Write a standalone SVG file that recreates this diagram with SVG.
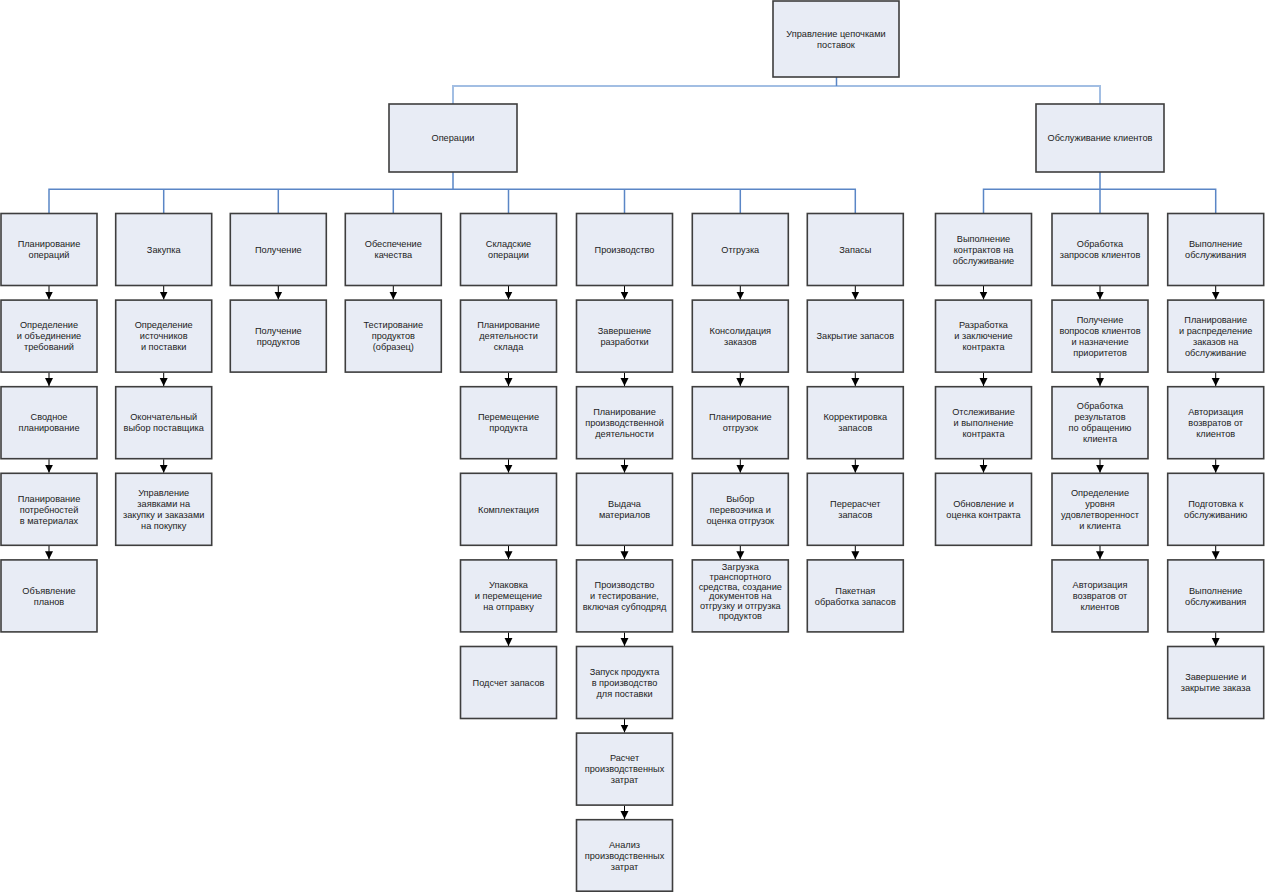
<svg xmlns="http://www.w3.org/2000/svg" width="1265" height="892" viewBox="0 0 1265 892">
<style>
.b{fill:#E8ECF5;stroke:#3E3E3E;stroke-width:1.6}
.t{font-family:"Liberation Sans",Arial,sans-serif;font-size:9.2px;fill:#222;text-anchor:middle}
.c{fill:none;stroke:#5A86C6;stroke-width:1.5}
.cl{fill:none;stroke:#A2BEE3;stroke-width:2}
.a line{stroke:#000;stroke-width:1;marker-end:url(#ah)}
</style>
<defs>
<marker id="ah" markerUnits="userSpaceOnUse" markerWidth="9" markerHeight="9" refX="8" refY="4.5" orient="auto"><path d="M0,0.5 L8,4.5 L0,8.5 z" fill="#000"/></marker>
</defs>
<rect width="1265" height="892" fill="#fff"/>
<g id="connectors">
<path class="cl" d="M453,104 V86 H1100 V104"/>
<path class="c" d="M836.5,77 V86"/>
<path class="c" d="M453,172 V189.3 M49,213.5 V189.3 H855.3 V213.5 M163.7,189.3 V213.5 M278.3,189.3 V213.5 M393.3,189.3 V213.5 M508.5,189.3 V213.5 M624.5,189.3 V213.5 M740.3,189.3 V213.5"/>
<path class="c" d="M1100,172 V213.5 M983.5,213.5 V189.3 H1215.7 V213.5"/>
<g id="arrows" class="a">
<line x1="49" y1="286" x2="49" y2="299.5"/><line x1="49" y1="372.6" x2="49" y2="386.1"/><line x1="49" y1="459.2" x2="49" y2="472.7"/><line x1="49" y1="545.8" x2="49" y2="559.3"/>
<line x1="163.7" y1="286" x2="163.7" y2="299.5"/><line x1="163.7" y1="372.6" x2="163.7" y2="386.1"/><line x1="163.7" y1="459.2" x2="163.7" y2="472.7"/>
<line x1="278.3" y1="286" x2="278.3" y2="299.5"/>
<line x1="393.3" y1="286" x2="393.3" y2="299.5"/>
<line x1="508.5" y1="286" x2="508.5" y2="299.5"/><line x1="508.5" y1="372.6" x2="508.5" y2="386.1"/><line x1="508.5" y1="459.2" x2="508.5" y2="472.7"/><line x1="508.5" y1="545.8" x2="508.5" y2="559.3"/><line x1="508.5" y1="632.4" x2="508.5" y2="645.9"/>
<line x1="624.5" y1="286" x2="624.5" y2="299.5"/><line x1="624.5" y1="372.6" x2="624.5" y2="386.1"/><line x1="624.5" y1="459.2" x2="624.5" y2="472.7"/><line x1="624.5" y1="545.8" x2="624.5" y2="559.3"/><line x1="624.5" y1="632.4" x2="624.5" y2="645.9"/><line x1="624.5" y1="719" x2="624.5" y2="732.5"/><line x1="624.5" y1="805.6" x2="624.5" y2="819.1"/>
<line x1="740.3" y1="286" x2="740.3" y2="299.5"/><line x1="740.3" y1="372.6" x2="740.3" y2="386.1"/><line x1="740.3" y1="459.2" x2="740.3" y2="472.7"/><line x1="740.3" y1="545.8" x2="740.3" y2="559.3"/>
<line x1="855.3" y1="286" x2="855.3" y2="299.5"/><line x1="855.3" y1="372.6" x2="855.3" y2="386.1"/><line x1="855.3" y1="459.2" x2="855.3" y2="472.7"/><line x1="855.3" y1="545.8" x2="855.3" y2="559.3"/>
<line x1="983.5" y1="286" x2="983.5" y2="299.5"/><line x1="983.5" y1="372.6" x2="983.5" y2="386.1"/><line x1="983.5" y1="459.2" x2="983.5" y2="472.7"/>
<line x1="1100" y1="286" x2="1100" y2="299.5"/><line x1="1100" y1="372.6" x2="1100" y2="386.1"/><line x1="1100" y1="459.2" x2="1100" y2="472.7"/><line x1="1100" y1="545.8" x2="1100" y2="559.3"/>
<line x1="1215.7" y1="286" x2="1215.7" y2="299.5"/><line x1="1215.7" y1="372.6" x2="1215.7" y2="386.1"/><line x1="1215.7" y1="459.2" x2="1215.7" y2="472.7"/><line x1="1215.7" y1="545.8" x2="1215.7" y2="559.3"/><line x1="1215.7" y1="632.4" x2="1215.7" y2="645.9"/>
</g>
</g>

<g id="n-root"><rect class="b" x="773" y="1" width="126" height="76"/><text class="t"><tspan x="836" y="36.7">Управление цепочками</tspan><tspan x="836" y="47.7">поставок</tspan></text></g>
<g id="n-ops"><rect class="b" x="389" y="104" width="128" height="68"/><text class="t"><tspan x="453" y="141.2">Операции</tspan></text></g>
<g id="n-svc"><rect class="b" x="1036" y="104" width="128" height="68"/><text class="t"><tspan x="1100" y="141.2">Обслуживание клиентов</tspan></text></g>

<g id="n-c1r0"><rect class="b" x="1" y="213.5" width="96" height="72"/><text class="t"><tspan x="49" y="247.2">Планирование</tspan><tspan x="49" y="258.2">операций</tspan></text></g>
<g id="n-c1r1"><rect class="b" x="1" y="300.1" width="96" height="72"/><text class="t"><tspan x="49" y="328.3">Определение</tspan><tspan x="49" y="339.3">и объединение</tspan><tspan x="49" y="350.3">требований</tspan></text></g>
<g id="n-c1r2"><rect class="b" x="1" y="386.7" width="96" height="72"/><text class="t"><tspan x="49" y="420.4">Сводное</tspan><tspan x="49" y="431.4">планирование</tspan></text></g>
<g id="n-c1r3"><rect class="b" x="1" y="473.3" width="96" height="72"/><text class="t"><tspan x="49" y="501.5">Планирование</tspan><tspan x="49" y="512.5">потребностей</tspan><tspan x="49" y="523.5">в материалах</tspan></text></g>
<g id="n-c1r4"><rect class="b" x="1" y="559.9" width="96" height="72"/><text class="t"><tspan x="49" y="593.6">Объявление</tspan><tspan x="49" y="604.6">планов</tspan></text></g>

<g id="n-c2r0"><rect class="b" x="115.7" y="213.5" width="96" height="72"/><text class="t"><tspan x="163.7" y="252.7">Закупка</tspan></text></g>
<g id="n-c2r1"><rect class="b" x="115.7" y="300.1" width="96" height="72"/><text class="t"><tspan x="163.7" y="328.3">Определение</tspan><tspan x="163.7" y="339.3">источников</tspan><tspan x="163.7" y="350.3">и поставки</tspan></text></g>
<g id="n-c2r2"><rect class="b" x="115.7" y="386.7" width="96" height="72"/><text class="t"><tspan x="163.7" y="420.4">Окончательный</tspan><tspan x="163.7" y="431.4">выбор поставщика</tspan></text></g>
<g id="n-c2r3"><rect class="b" x="115.7" y="473.3" width="96" height="72"/><text class="t"><tspan x="163.7" y="496">Управление</tspan><tspan x="163.7" y="507">заявками на</tspan><tspan x="163.7" y="518">закупку и заказами</tspan><tspan x="163.7" y="529">на покупку</tspan></text></g>

<g id="n-c3r0"><rect class="b" x="230.3" y="213.5" width="96" height="72"/><text class="t"><tspan x="278.3" y="252.7">Получение</tspan></text></g>
<g id="n-c3r1"><rect class="b" x="230.3" y="300.1" width="96" height="72"/><text class="t"><tspan x="278.3" y="333.8">Получение</tspan><tspan x="278.3" y="344.8">продуктов</tspan></text></g>

<g id="n-c4r0"><rect class="b" x="345.3" y="213.5" width="96" height="72"/><text class="t"><tspan x="393.3" y="247.2">Обеспечение</tspan><tspan x="393.3" y="258.2">качества</tspan></text></g>
<g id="n-c4r1"><rect class="b" x="345.3" y="300.1" width="96" height="72"/><text class="t"><tspan x="393.3" y="328.3">Тестирование</tspan><tspan x="393.3" y="339.3">продуктов</tspan><tspan x="393.3" y="350.3">(образец)</tspan></text></g>

<g id="n-c5r0"><rect class="b" x="460.5" y="213.5" width="96" height="72"/><text class="t"><tspan x="508.5" y="247.2">Складские</tspan><tspan x="508.5" y="258.2">операции</tspan></text></g>
<g id="n-c5r1"><rect class="b" x="460.5" y="300.1" width="96" height="72"/><text class="t"><tspan x="508.5" y="328.3">Планирование</tspan><tspan x="508.5" y="339.3">деятельности</tspan><tspan x="508.5" y="350.3">склада</tspan></text></g>
<g id="n-c5r2"><rect class="b" x="460.5" y="386.7" width="96" height="72"/><text class="t"><tspan x="508.5" y="420.4">Перемещение</tspan><tspan x="508.5" y="431.4">продукта</tspan></text></g>
<g id="n-c5r3"><rect class="b" x="460.5" y="473.3" width="96" height="72"/><text class="t"><tspan x="508.5" y="512.5">Комплектация</tspan></text></g>
<g id="n-c5r4"><rect class="b" x="460.5" y="559.9" width="96" height="72"/><text class="t"><tspan x="508.5" y="588.1">Упаковка</tspan><tspan x="508.5" y="599.1">и перемещение</tspan><tspan x="508.5" y="610.1">на отправку</tspan></text></g>
<g id="n-c5r5"><rect class="b" x="460.5" y="646.5" width="96" height="72"/><text class="t"><tspan x="508.5" y="685.7">Подсчет запасов</tspan></text></g>

<g id="n-c6r0"><rect class="b" x="576.5" y="213.5" width="96" height="72"/><text class="t"><tspan x="624.5" y="252.7">Производство</tspan></text></g>
<g id="n-c6r1"><rect class="b" x="576.5" y="300.1" width="96" height="72"/><text class="t"><tspan x="624.5" y="333.8">Завершение</tspan><tspan x="624.5" y="344.8">разработки</tspan></text></g>
<g id="n-c6r2"><rect class="b" x="576.5" y="386.7" width="96" height="72"/><text class="t"><tspan x="624.5" y="414.9">Планирование</tspan><tspan x="624.5" y="425.9">производственной</tspan><tspan x="624.5" y="436.9">деятельности</tspan></text></g>
<g id="n-c6r3"><rect class="b" x="576.5" y="473.3" width="96" height="72"/><text class="t"><tspan x="624.5" y="507">Выдача</tspan><tspan x="624.5" y="518">материалов</tspan></text></g>
<g id="n-c6r4"><rect class="b" x="576.5" y="559.9" width="96" height="72"/><text class="t"><tspan x="624.5" y="588.1">Производство</tspan><tspan x="624.5" y="599.1">и тестирование,</tspan><tspan x="624.5" y="610.1">включая субподряд</tspan></text></g>
<g id="n-c6r5"><rect class="b" x="576.5" y="646.5" width="96" height="72"/><text class="t"><tspan x="624.5" y="674.7">Запуск продукта</tspan><tspan x="624.5" y="685.7">в производство</tspan><tspan x="624.5" y="696.7">для поставки</tspan></text></g>
<g id="n-c6r6"><rect class="b" x="576.5" y="733.1" width="96" height="72"/><text class="t"><tspan x="624.5" y="761.3">Расчет</tspan><tspan x="624.5" y="772.3">производственных</tspan><tspan x="624.5" y="783.3">затрат</tspan></text></g>
<g id="n-c6r7"><rect class="b" x="576.5" y="819.7" width="96" height="71.5"/><text class="t"><tspan x="624.5" y="847.9">Анализ</tspan><tspan x="624.5" y="858.9">производственных</tspan><tspan x="624.5" y="869.9">затрат</tspan></text></g>

<g id="n-c7r0"><rect class="b" x="692.3" y="213.5" width="96" height="72"/><text class="t"><tspan x="740.3" y="252.7">Отгрузка</tspan></text></g>
<g id="n-c7r1"><rect class="b" x="692.3" y="300.1" width="96" height="72"/><text class="t"><tspan x="740.3" y="333.8">Консолидация</tspan><tspan x="740.3" y="344.8">заказов</tspan></text></g>
<g id="n-c7r2"><rect class="b" x="692.3" y="386.7" width="96" height="72"/><text class="t"><tspan x="740.3" y="420.4">Планирование</tspan><tspan x="740.3" y="431.4">отгрузок</tspan></text></g>
<g id="n-c7r3"><rect class="b" x="692.3" y="473.3" width="96" height="72"/><text class="t"><tspan x="740.3" y="501.5">Выбор</tspan><tspan x="740.3" y="512.5">перевозчика и</tspan><tspan x="740.3" y="523.5">оценка отгрузок</tspan></text></g>
<g id="n-c7r4"><rect class="b" x="692.3" y="559.9" width="96" height="72"/><text class="t"><tspan x="740.3" y="569.9">Загрузка</tspan><tspan x="740.3" y="579.7">транспортного</tspan><tspan x="740.3" y="589.5">средства, создание</tspan><tspan x="740.3" y="599.3">документов на</tspan><tspan x="740.3" y="609.1">отгрузку и отгрузка</tspan><tspan x="740.3" y="618.9">продуктов</tspan></text></g>

<g id="n-c8r0"><rect class="b" x="807.3" y="213.5" width="96" height="72"/><text class="t"><tspan x="855.3" y="252.7">Запасы</tspan></text></g>
<g id="n-c8r1"><rect class="b" x="807.3" y="300.1" width="96" height="72"/><text class="t"><tspan x="855.3" y="339.3">Закрытие запасов</tspan></text></g>
<g id="n-c8r2"><rect class="b" x="807.3" y="386.7" width="96" height="72"/><text class="t"><tspan x="855.3" y="420.4">Корректировка</tspan><tspan x="855.3" y="431.4">запасов</tspan></text></g>
<g id="n-c8r3"><rect class="b" x="807.3" y="473.3" width="96" height="72"/><text class="t"><tspan x="855.3" y="507">Перерасчет</tspan><tspan x="855.3" y="518">запасов</tspan></text></g>
<g id="n-c8r4"><rect class="b" x="807.3" y="559.9" width="96" height="72"/><text class="t"><tspan x="855.3" y="593.6">Пакетная</tspan><tspan x="855.3" y="604.6">обработка запасов</tspan></text></g>

<g id="n-s1r0"><rect class="b" x="935.5" y="213.5" width="96" height="72"/><text class="t"><tspan x="983.5" y="241.7">Выполнение</tspan><tspan x="983.5" y="252.7">контрактов на</tspan><tspan x="983.5" y="263.7">обслуживание</tspan></text></g>
<g id="n-s1r1"><rect class="b" x="935.5" y="300.1" width="96" height="72"/><text class="t"><tspan x="983.5" y="328.3">Разработка</tspan><tspan x="983.5" y="339.3">и заключение</tspan><tspan x="983.5" y="350.3">контракта</tspan></text></g>
<g id="n-s1r2"><rect class="b" x="935.5" y="386.7" width="96" height="72"/><text class="t"><tspan x="983.5" y="414.9">Отслеживание</tspan><tspan x="983.5" y="425.9">и выполнение</tspan><tspan x="983.5" y="436.9">контракта</tspan></text></g>
<g id="n-s1r3"><rect class="b" x="935.5" y="473.3" width="96" height="72"/><text class="t"><tspan x="983.5" y="507">Обновление и</tspan><tspan x="983.5" y="518">оценка контракта</tspan></text></g>

<g id="n-s2r0"><rect class="b" x="1052" y="213.5" width="96" height="72"/><text class="t"><tspan x="1100" y="247.2">Обработка</tspan><tspan x="1100" y="258.2">запросов клиентов</tspan></text></g>
<g id="n-s2r1"><rect class="b" x="1052" y="300.1" width="96" height="72"/><text class="t"><tspan x="1100" y="322.8">Получение</tspan><tspan x="1100" y="333.8">вопросов клиентов</tspan><tspan x="1100" y="344.8">и назначение</tspan><tspan x="1100" y="355.8">приоритетов</tspan></text></g>
<g id="n-s2r2"><rect class="b" x="1052" y="386.7" width="96" height="72"/><text class="t"><tspan x="1100" y="409.4">Обработка</tspan><tspan x="1100" y="420.4">результатов</tspan><tspan x="1100" y="431.4">по обращению</tspan><tspan x="1100" y="442.4">клиента</tspan></text></g>
<g id="n-s2r3"><rect class="b" x="1052" y="473.3" width="96" height="72"/><text class="t"><tspan x="1100" y="496">Определение</tspan><tspan x="1100" y="507">уровня</tspan><tspan x="1100" y="518">удовлетворенност</tspan><tspan x="1100" y="529">и клиента</tspan></text></g>
<g id="n-s2r4"><rect class="b" x="1052" y="559.9" width="96" height="72"/><text class="t"><tspan x="1100" y="588.1">Авторизация</tspan><tspan x="1100" y="599.1">возвратов от</tspan><tspan x="1100" y="610.1">клиентов</tspan></text></g>

<g id="n-s3r0"><rect class="b" x="1167.7" y="213.5" width="96" height="72"/><text class="t"><tspan x="1215.7" y="247.2">Выполнение</tspan><tspan x="1215.7" y="258.2">обслуживания</tspan></text></g>
<g id="n-s3r1"><rect class="b" x="1167.7" y="300.1" width="96" height="72"/><text class="t"><tspan x="1215.7" y="322.8">Планирование</tspan><tspan x="1215.7" y="333.8">и распределение</tspan><tspan x="1215.7" y="344.8">заказов на</tspan><tspan x="1215.7" y="355.8">обслуживание</tspan></text></g>
<g id="n-s3r2"><rect class="b" x="1167.7" y="386.7" width="96" height="72"/><text class="t"><tspan x="1215.7" y="414.9">Авторизация</tspan><tspan x="1215.7" y="425.9">возвратов от</tspan><tspan x="1215.7" y="436.9">клиентов</tspan></text></g>
<g id="n-s3r3"><rect class="b" x="1167.7" y="473.3" width="96" height="72"/><text class="t"><tspan x="1215.7" y="507">Подготовка к</tspan><tspan x="1215.7" y="518">обслуживанию</tspan></text></g>
<g id="n-s3r4"><rect class="b" x="1167.7" y="559.9" width="96" height="72"/><text class="t"><tspan x="1215.7" y="593.6">Выполнение</tspan><tspan x="1215.7" y="604.6">обслуживания</tspan></text></g>
<g id="n-s3r5"><rect class="b" x="1167.7" y="646.5" width="96" height="72"/><text class="t"><tspan x="1215.7" y="680.2">Завершение и</tspan><tspan x="1215.7" y="691.2">закрытие заказа</tspan></text></g>
</svg>
